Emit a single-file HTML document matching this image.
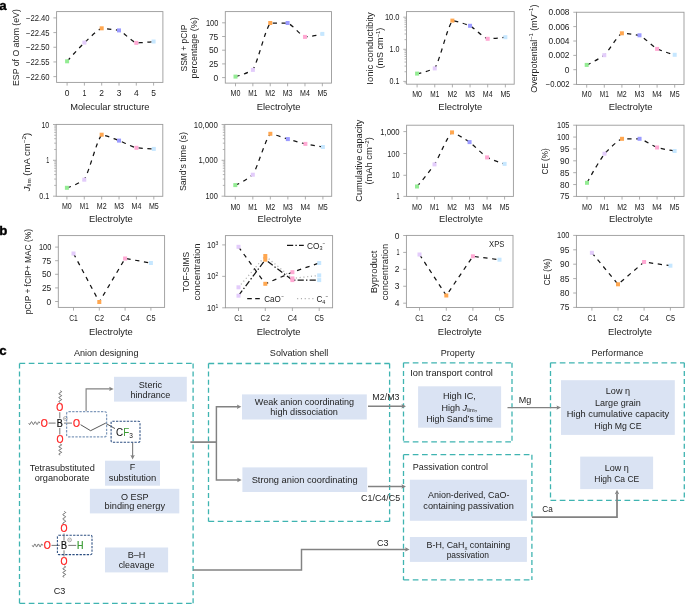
<!DOCTYPE html>
<html lang="en"><head><meta charset="utf-8"><title>Figure</title>
<style>
html,body{margin:0;padding:0;background:#fff}
svg{display:block}
text{font-family:"Liberation Sans",Arial,Helvetica,sans-serif}
</style></head><body>
<svg width="685" height="604" viewBox="0 0 685 604">
<rect width="685" height="604" fill="#fff"/>
<g fill="#222">
<text transform="translate(-0.70 10.40) scale(1.020 1)" font-size="13" fill="#000" font-weight="bold" stroke="#000" stroke-width="0.35">a</text>
<text transform="translate(-0.70 235.30) scale(1.020 1)" font-size="13" fill="#000" font-weight="bold" stroke="#000" stroke-width="0.35">b</text>
<text transform="translate(-0.70 355.30) scale(1.020 1)" font-size="13" fill="#000" font-weight="bold" stroke="#000" stroke-width="0.35">c</text>
<rect x="56.60" y="11.60" width="106.30" height="70.80" fill="#fff" stroke="#9a9a9a" stroke-width="0.9"/>
<line x1="53.40" y1="17.90" x2="56.60" y2="17.90" stroke="#9a9a9a" stroke-width="0.8"/>
<text transform="translate(49.60 20.90) scale(0.914 1)" font-size="8.4" text-anchor="end">−22.40</text>
<line x1="53.40" y1="32.58" x2="56.60" y2="32.58" stroke="#9a9a9a" stroke-width="0.8"/>
<text transform="translate(49.60 35.58) scale(0.914 1)" font-size="8.4" text-anchor="end">−22.45</text>
<line x1="53.40" y1="47.26" x2="56.60" y2="47.26" stroke="#9a9a9a" stroke-width="0.8"/>
<text transform="translate(49.60 50.26) scale(0.914 1)" font-size="8.4" text-anchor="end">−22.50</text>
<line x1="53.40" y1="61.94" x2="56.60" y2="61.94" stroke="#9a9a9a" stroke-width="0.8"/>
<text transform="translate(49.60 64.94) scale(0.914 1)" font-size="8.4" text-anchor="end">−22.55</text>
<line x1="53.40" y1="76.62" x2="56.60" y2="76.62" stroke="#9a9a9a" stroke-width="0.8"/>
<text transform="translate(49.60 79.62) scale(0.914 1)" font-size="8.4" text-anchor="end">−22.60</text>
<line x1="67.10" y1="82.40" x2="67.10" y2="85.60" stroke="#9a9a9a" stroke-width="0.8"/>
<text transform="translate(67.10 95.80) scale(1.007 1)" font-size="8.4" text-anchor="middle">0</text>
<line x1="84.40" y1="82.40" x2="84.40" y2="85.60" stroke="#9a9a9a" stroke-width="0.8"/>
<text transform="translate(84.40 95.80) scale(0.836 1)" font-size="8.4" text-anchor="middle">1</text>
<line x1="101.70" y1="82.40" x2="101.70" y2="85.60" stroke="#9a9a9a" stroke-width="0.8"/>
<text transform="translate(101.70 95.80) scale(1.007 1)" font-size="8.4" text-anchor="middle">2</text>
<line x1="119.00" y1="82.40" x2="119.00" y2="85.60" stroke="#9a9a9a" stroke-width="0.8"/>
<text transform="translate(119.00 95.80) scale(1.007 1)" font-size="8.4" text-anchor="middle">3</text>
<line x1="136.30" y1="82.40" x2="136.30" y2="85.60" stroke="#9a9a9a" stroke-width="0.8"/>
<text transform="translate(136.30 95.80) scale(1.007 1)" font-size="8.4" text-anchor="middle">4</text>
<line x1="153.60" y1="82.40" x2="153.60" y2="85.60" stroke="#9a9a9a" stroke-width="0.8"/>
<text transform="translate(153.60 95.80) scale(1.007 1)" font-size="8.4" text-anchor="middle">5</text>
<path d="M67.10 61.30 C72.87 54.74 78.63 48.46 84.40 42.60 C90.17 37.55 95.93 30.92 101.70 28.30 C107.47 28.68 113.23 29.48 119.00 30.40 C124.77 33.23 130.53 40.61 136.30 42.90 C142.07 42.64 147.83 42.39 153.60 41.50" fill="none" stroke="#141414" stroke-width="1.25" stroke-dasharray="4.3 4.6"/>
<rect x="65.10" y="59.30" width="4" height="4" fill="#93ec93"/>
<rect x="82.40" y="40.60" width="4" height="4" fill="#e3ccfb"/>
<rect x="99.70" y="26.30" width="4" height="4" fill="#ffa750"/>
<rect x="117.00" y="28.40" width="4" height="4" fill="#9b9bff"/>
<rect x="134.30" y="40.90" width="4" height="4" fill="#ffa9d3"/>
<rect x="151.60" y="39.50" width="4" height="4" fill="#c6e7ff"/>
<text transform="translate(19.10 47.60) rotate(-90) scale(0.990 1)" font-size="8.8" text-anchor="middle">ESP of O atom (eV)</text>
<text transform="translate(109.80 110.10) scale(1.061 1)" font-size="8.8" text-anchor="middle">Molecular structure</text>
<rect x="225.30" y="11.60" width="106.20" height="71.50" fill="#fff" stroke="#9a9a9a" stroke-width="0.9"/>
<line x1="222.10" y1="22.80" x2="225.30" y2="22.80" stroke="#9a9a9a" stroke-width="0.8"/>
<text transform="translate(218.30 25.80) scale(0.887 1)" font-size="8.4" text-anchor="end">100</text>
<line x1="222.10" y1="36.50" x2="225.30" y2="36.50" stroke="#9a9a9a" stroke-width="0.8"/>
<text transform="translate(218.30 39.50) scale(1.007 1)" font-size="8.4" text-anchor="end">75</text>
<line x1="222.10" y1="50.20" x2="225.30" y2="50.20" stroke="#9a9a9a" stroke-width="0.8"/>
<text transform="translate(218.30 53.20) scale(1.007 1)" font-size="8.4" text-anchor="end">50</text>
<line x1="222.10" y1="63.90" x2="225.30" y2="63.90" stroke="#9a9a9a" stroke-width="0.8"/>
<text transform="translate(218.30 66.90) scale(1.007 1)" font-size="8.4" text-anchor="end">25</text>
<line x1="222.10" y1="77.60" x2="225.30" y2="77.60" stroke="#9a9a9a" stroke-width="0.8"/>
<text transform="translate(218.30 80.60) scale(1.007 1)" font-size="8.4" text-anchor="end">0</text>
<line x1="235.50" y1="83.10" x2="235.50" y2="86.30" stroke="#9a9a9a" stroke-width="0.8"/>
<text transform="translate(235.50 96.10) scale(0.842 1)" font-size="8.4" text-anchor="middle">M0</text>
<line x1="252.87" y1="83.10" x2="252.87" y2="86.30" stroke="#9a9a9a" stroke-width="0.8"/>
<text transform="translate(252.87 96.10) scale(0.774 1)" font-size="8.4" text-anchor="middle">M1</text>
<line x1="270.24" y1="83.10" x2="270.24" y2="86.30" stroke="#9a9a9a" stroke-width="0.8"/>
<text transform="translate(270.24 96.10) scale(0.842 1)" font-size="8.4" text-anchor="middle">M2</text>
<line x1="287.61" y1="83.10" x2="287.61" y2="86.30" stroke="#9a9a9a" stroke-width="0.8"/>
<text transform="translate(287.61 96.10) scale(0.842 1)" font-size="8.4" text-anchor="middle">M3</text>
<line x1="304.98" y1="83.10" x2="304.98" y2="86.30" stroke="#9a9a9a" stroke-width="0.8"/>
<text transform="translate(304.98 96.10) scale(0.842 1)" font-size="8.4" text-anchor="middle">M4</text>
<line x1="322.35" y1="83.10" x2="322.35" y2="86.30" stroke="#9a9a9a" stroke-width="0.8"/>
<text transform="translate(322.35 96.10) scale(0.842 1)" font-size="8.4" text-anchor="middle">M5</text>
<path d="M235.50 76.60 C241.29 75.37 247.08 72.89 252.87 69.90 C258.66 59.54 264.45 31.60 270.24 23.00 C276.03 23.00 281.82 23.00 287.61 23.00 C293.40 25.55 299.19 34.35 304.98 36.90 C310.77 36.35 316.56 35.80 322.35 33.90" fill="none" stroke="#141414" stroke-width="1.25" stroke-dasharray="4.3 4.6"/>
<rect x="233.50" y="74.60" width="4" height="4" fill="#93ec93"/>
<rect x="250.87" y="67.90" width="4" height="4" fill="#e3ccfb"/>
<rect x="268.24" y="21.00" width="4" height="4" fill="#ffa750"/>
<rect x="285.61" y="21.00" width="4" height="4" fill="#9b9bff"/>
<rect x="302.98" y="34.90" width="4" height="4" fill="#ffa9d3"/>
<rect x="320.35" y="31.90" width="4" height="4" fill="#c6e7ff"/>
<text transform="translate(186.50 48.00) rotate(-90) scale(0.966 1)" font-size="8.8" text-anchor="middle">SSM + pCIP</text>
<text transform="translate(197.20 47.90) rotate(-90) scale(1.017 1)" font-size="8.8" text-anchor="middle">percentage (%)</text>
<text transform="translate(278.60 110.10) scale(1.069 1)" font-size="8.8" text-anchor="middle">Electrolyte</text>
<rect x="406.50" y="11.60" width="107.70" height="72.60" fill="#fff" stroke="#9a9a9a" stroke-width="0.9"/>
<line x1="404.50" y1="82.87" x2="406.50" y2="82.87" stroke="#a2a2a2" stroke-width="0.8"/>
<line x1="404.50" y1="71.74" x2="406.50" y2="71.74" stroke="#a2a2a2" stroke-width="0.8"/>
<line x1="404.50" y1="66.08" x2="406.50" y2="66.08" stroke="#a2a2a2" stroke-width="0.8"/>
<line x1="404.50" y1="62.07" x2="406.50" y2="62.07" stroke="#a2a2a2" stroke-width="0.8"/>
<line x1="404.50" y1="58.96" x2="406.50" y2="58.96" stroke="#a2a2a2" stroke-width="0.8"/>
<line x1="404.50" y1="56.42" x2="406.50" y2="56.42" stroke="#a2a2a2" stroke-width="0.8"/>
<line x1="404.50" y1="54.27" x2="406.50" y2="54.27" stroke="#a2a2a2" stroke-width="0.8"/>
<line x1="404.50" y1="52.41" x2="406.50" y2="52.41" stroke="#a2a2a2" stroke-width="0.8"/>
<line x1="404.50" y1="50.77" x2="406.50" y2="50.77" stroke="#a2a2a2" stroke-width="0.8"/>
<line x1="404.50" y1="39.64" x2="406.50" y2="39.64" stroke="#a2a2a2" stroke-width="0.8"/>
<line x1="404.50" y1="33.98" x2="406.50" y2="33.98" stroke="#a2a2a2" stroke-width="0.8"/>
<line x1="404.50" y1="29.97" x2="406.50" y2="29.97" stroke="#a2a2a2" stroke-width="0.8"/>
<line x1="404.50" y1="26.86" x2="406.50" y2="26.86" stroke="#a2a2a2" stroke-width="0.8"/>
<line x1="404.50" y1="24.32" x2="406.50" y2="24.32" stroke="#a2a2a2" stroke-width="0.8"/>
<line x1="404.50" y1="22.17" x2="406.50" y2="22.17" stroke="#a2a2a2" stroke-width="0.8"/>
<line x1="404.50" y1="20.31" x2="406.50" y2="20.31" stroke="#a2a2a2" stroke-width="0.8"/>
<line x1="404.50" y1="18.67" x2="406.50" y2="18.67" stroke="#a2a2a2" stroke-width="0.8"/>
<line x1="403.30" y1="17.20" x2="406.50" y2="17.20" stroke="#9a9a9a" stroke-width="0.8"/>
<text transform="translate(399.50 20.20) scale(0.894 1)" font-size="8.4" text-anchor="end">10.0</text>
<line x1="403.30" y1="49.30" x2="406.50" y2="49.30" stroke="#9a9a9a" stroke-width="0.8"/>
<text transform="translate(399.50 52.30) scale(0.849 1)" font-size="8.4" text-anchor="end">1.0</text>
<line x1="403.30" y1="81.40" x2="406.50" y2="81.40" stroke="#9a9a9a" stroke-width="0.8"/>
<text transform="translate(399.50 84.40) scale(0.849 1)" font-size="8.4" text-anchor="end">0.1</text>
<line x1="417.10" y1="84.20" x2="417.10" y2="87.40" stroke="#9a9a9a" stroke-width="0.8"/>
<text transform="translate(417.10 97.10) scale(0.842 1)" font-size="8.4" text-anchor="middle">M0</text>
<line x1="434.75" y1="84.20" x2="434.75" y2="87.40" stroke="#9a9a9a" stroke-width="0.8"/>
<text transform="translate(434.75 97.10) scale(0.774 1)" font-size="8.4" text-anchor="middle">M1</text>
<line x1="452.40" y1="84.20" x2="452.40" y2="87.40" stroke="#9a9a9a" stroke-width="0.8"/>
<text transform="translate(452.40 97.10) scale(0.842 1)" font-size="8.4" text-anchor="middle">M2</text>
<line x1="470.05" y1="84.20" x2="470.05" y2="87.40" stroke="#9a9a9a" stroke-width="0.8"/>
<text transform="translate(470.05 97.10) scale(0.842 1)" font-size="8.4" text-anchor="middle">M3</text>
<line x1="487.70" y1="84.20" x2="487.70" y2="87.40" stroke="#9a9a9a" stroke-width="0.8"/>
<text transform="translate(487.70 97.10) scale(0.842 1)" font-size="8.4" text-anchor="middle">M4</text>
<line x1="505.35" y1="84.20" x2="505.35" y2="87.40" stroke="#9a9a9a" stroke-width="0.8"/>
<text transform="translate(505.35 97.10) scale(0.842 1)" font-size="8.4" text-anchor="middle">M5</text>
<path d="M417.10 73.60 C422.98 72.65 428.87 70.76 434.75 68.40 C440.63 58.23 446.52 29.36 452.40 20.60 C458.28 21.55 464.17 23.73 470.05 25.80 C475.93 29.30 481.82 36.42 487.70 38.80 C493.58 38.51 499.47 38.21 505.35 37.20" fill="none" stroke="#141414" stroke-width="1.25" stroke-dasharray="4.3 4.6"/>
<rect x="415.10" y="71.60" width="4" height="4" fill="#93ec93"/>
<rect x="432.75" y="66.40" width="4" height="4" fill="#e3ccfb"/>
<rect x="450.40" y="18.60" width="4" height="4" fill="#ffa750"/>
<rect x="468.05" y="23.80" width="4" height="4" fill="#9b9bff"/>
<rect x="485.70" y="36.80" width="4" height="4" fill="#ffa9d3"/>
<rect x="503.35" y="35.20" width="4" height="4" fill="#c6e7ff"/>
<text transform="translate(372.70 48.50) rotate(-90) scale(1.073 1)" font-size="8.8" text-anchor="middle">Ionic conductibity</text>
<text transform="translate(383.30 48.10) rotate(-90) scale(1.024 1)" font-size="8.8" text-anchor="middle">(mS cm<tspan font-size="5.81" dy="-3.17">−1</tspan><tspan dy="3.17">)</tspan></text>
<text transform="translate(460.30 110.10) scale(1.069 1)" font-size="8.8" text-anchor="middle">Electrolyte</text>
<rect x="576.50" y="12.25" width="107.50" height="72.20" fill="#fff" stroke="#9a9a9a" stroke-width="0.9"/>
<line x1="573.30" y1="12.25" x2="576.50" y2="12.25" stroke="#9a9a9a" stroke-width="0.8"/>
<text transform="translate(569.50 15.25) scale(0.999 1)" font-size="8.4" text-anchor="end">0.008</text>
<line x1="573.30" y1="26.60" x2="576.50" y2="26.60" stroke="#9a9a9a" stroke-width="0.8"/>
<text transform="translate(569.50 29.60) scale(0.999 1)" font-size="8.4" text-anchor="end">0.006</text>
<line x1="573.30" y1="41.00" x2="576.50" y2="41.00" stroke="#9a9a9a" stroke-width="0.8"/>
<text transform="translate(569.50 44.00) scale(0.999 1)" font-size="8.4" text-anchor="end">0.004</text>
<line x1="573.30" y1="55.40" x2="576.50" y2="55.40" stroke="#9a9a9a" stroke-width="0.8"/>
<text transform="translate(569.50 58.40) scale(0.999 1)" font-size="8.4" text-anchor="end">0.002</text>
<line x1="573.30" y1="69.70" x2="576.50" y2="69.70" stroke="#9a9a9a" stroke-width="0.8"/>
<text transform="translate(569.50 72.70) scale(1.007 1)" font-size="8.4" text-anchor="end">0</text>
<line x1="573.30" y1="84.35" x2="576.50" y2="84.35" stroke="#9a9a9a" stroke-width="0.8"/>
<text transform="translate(569.50 87.35) scale(0.914 1)" font-size="8.4" text-anchor="end">−0.002</text>
<line x1="586.70" y1="84.45" x2="586.70" y2="87.65" stroke="#9a9a9a" stroke-width="0.8"/>
<text transform="translate(586.70 97.10) scale(0.842 1)" font-size="8.4" text-anchor="middle">M0</text>
<line x1="604.30" y1="84.45" x2="604.30" y2="87.65" stroke="#9a9a9a" stroke-width="0.8"/>
<text transform="translate(604.30 97.10) scale(0.774 1)" font-size="8.4" text-anchor="middle">M1</text>
<line x1="621.90" y1="84.45" x2="621.90" y2="87.65" stroke="#9a9a9a" stroke-width="0.8"/>
<text transform="translate(621.90 97.10) scale(0.842 1)" font-size="8.4" text-anchor="middle">M2</text>
<line x1="639.50" y1="84.45" x2="639.50" y2="87.65" stroke="#9a9a9a" stroke-width="0.8"/>
<text transform="translate(639.50 97.10) scale(0.842 1)" font-size="8.4" text-anchor="middle">M3</text>
<line x1="657.10" y1="84.45" x2="657.10" y2="87.65" stroke="#9a9a9a" stroke-width="0.8"/>
<text transform="translate(657.10 97.10) scale(0.842 1)" font-size="8.4" text-anchor="middle">M4</text>
<line x1="674.70" y1="84.45" x2="674.70" y2="87.65" stroke="#9a9a9a" stroke-width="0.8"/>
<text transform="translate(674.70 97.10) scale(0.842 1)" font-size="8.4" text-anchor="middle">M5</text>
<path d="M586.70 64.90 C592.57 62.58 598.43 59.00 604.30 55.20 C610.17 49.17 616.03 37.31 621.90 33.30 C627.77 33.67 633.63 34.41 639.50 35.30 C645.37 38.32 651.23 45.17 657.10 48.90 C662.97 51.22 668.83 53.41 674.70 54.80" fill="none" stroke="#141414" stroke-width="1.25" stroke-dasharray="4.3 4.6"/>
<rect x="584.70" y="62.90" width="4" height="4" fill="#93ec93"/>
<rect x="602.30" y="53.20" width="4" height="4" fill="#e3ccfb"/>
<rect x="619.90" y="31.30" width="4" height="4" fill="#ffa750"/>
<rect x="637.50" y="33.30" width="4" height="4" fill="#9b9bff"/>
<rect x="655.10" y="46.90" width="4" height="4" fill="#ffa9d3"/>
<rect x="672.70" y="52.80" width="4" height="4" fill="#c6e7ff"/>
<text transform="translate(536.50 48.70) rotate(-90) scale(1.013 1)" font-size="8.8" text-anchor="middle">Overpotential<tspan font-size="5.81" dy="-3.17">−1</tspan><tspan dy="3.17"> (mV</tspan><tspan font-size="5.81" dy="-3.17">−1</tspan><tspan dy="3.17">)</tspan></text>
<text transform="translate(630.60 110.10) scale(1.069 1)" font-size="8.8" text-anchor="middle">Electrolyte</text>
<rect x="56.20" y="124.40" width="106.60" height="71.90" fill="#fff" stroke="#9a9a9a" stroke-width="0.9"/>
<line x1="54.20" y1="185.39" x2="56.20" y2="185.39" stroke="#a2a2a2" stroke-width="0.8"/>
<line x1="54.20" y1="179.07" x2="56.20" y2="179.07" stroke="#a2a2a2" stroke-width="0.8"/>
<line x1="54.20" y1="174.59" x2="56.20" y2="174.59" stroke="#a2a2a2" stroke-width="0.8"/>
<line x1="54.20" y1="171.11" x2="56.20" y2="171.11" stroke="#a2a2a2" stroke-width="0.8"/>
<line x1="54.20" y1="168.26" x2="56.20" y2="168.26" stroke="#a2a2a2" stroke-width="0.8"/>
<line x1="54.20" y1="165.86" x2="56.20" y2="165.86" stroke="#a2a2a2" stroke-width="0.8"/>
<line x1="54.20" y1="163.78" x2="56.20" y2="163.78" stroke="#a2a2a2" stroke-width="0.8"/>
<line x1="54.20" y1="161.94" x2="56.20" y2="161.94" stroke="#a2a2a2" stroke-width="0.8"/>
<line x1="54.20" y1="149.49" x2="56.20" y2="149.49" stroke="#a2a2a2" stroke-width="0.8"/>
<line x1="54.20" y1="143.17" x2="56.20" y2="143.17" stroke="#a2a2a2" stroke-width="0.8"/>
<line x1="54.20" y1="138.69" x2="56.20" y2="138.69" stroke="#a2a2a2" stroke-width="0.8"/>
<line x1="54.20" y1="135.21" x2="56.20" y2="135.21" stroke="#a2a2a2" stroke-width="0.8"/>
<line x1="54.20" y1="132.36" x2="56.20" y2="132.36" stroke="#a2a2a2" stroke-width="0.8"/>
<line x1="54.20" y1="129.96" x2="56.20" y2="129.96" stroke="#a2a2a2" stroke-width="0.8"/>
<line x1="54.20" y1="127.88" x2="56.20" y2="127.88" stroke="#a2a2a2" stroke-width="0.8"/>
<line x1="54.20" y1="126.04" x2="56.20" y2="126.04" stroke="#a2a2a2" stroke-width="0.8"/>
<line x1="53.00" y1="124.50" x2="56.20" y2="124.50" stroke="#9a9a9a" stroke-width="0.8"/>
<text transform="translate(49.20 127.50) scale(0.827 1)" font-size="8.4" text-anchor="end">10</text>
<line x1="53.00" y1="160.30" x2="56.20" y2="160.30" stroke="#9a9a9a" stroke-width="0.8"/>
<text transform="translate(49.20 163.30) scale(0.647 1)" font-size="8.4" text-anchor="end">1</text>
<line x1="53.00" y1="196.20" x2="56.20" y2="196.20" stroke="#9a9a9a" stroke-width="0.8"/>
<text transform="translate(49.20 199.20) scale(0.849 1)" font-size="8.4" text-anchor="end">0.1</text>
<line x1="66.90" y1="196.30" x2="66.90" y2="199.50" stroke="#9a9a9a" stroke-width="0.8"/>
<text transform="translate(66.90 209.00) scale(0.842 1)" font-size="8.4" text-anchor="middle">M0</text>
<line x1="84.28" y1="196.30" x2="84.28" y2="199.50" stroke="#9a9a9a" stroke-width="0.8"/>
<text transform="translate(84.28 209.00) scale(0.774 1)" font-size="8.4" text-anchor="middle">M1</text>
<line x1="101.66" y1="196.30" x2="101.66" y2="199.50" stroke="#9a9a9a" stroke-width="0.8"/>
<text transform="translate(101.66 209.00) scale(0.842 1)" font-size="8.4" text-anchor="middle">M2</text>
<line x1="119.04" y1="196.30" x2="119.04" y2="199.50" stroke="#9a9a9a" stroke-width="0.8"/>
<text transform="translate(119.04 209.00) scale(0.842 1)" font-size="8.4" text-anchor="middle">M3</text>
<line x1="136.42" y1="196.30" x2="136.42" y2="199.50" stroke="#9a9a9a" stroke-width="0.8"/>
<text transform="translate(136.42 209.00) scale(0.842 1)" font-size="8.4" text-anchor="middle">M4</text>
<line x1="153.80" y1="196.30" x2="153.80" y2="199.50" stroke="#9a9a9a" stroke-width="0.8"/>
<text transform="translate(153.80 209.00) scale(0.842 1)" font-size="8.4" text-anchor="middle">M5</text>
<path d="M66.90 187.80 C72.69 186.31 78.49 183.24 84.28 179.70 C90.07 169.39 95.87 142.95 101.66 134.70 C107.45 135.78 113.25 138.55 119.04 140.60 C124.83 142.89 130.63 146.19 136.42 147.80 C142.21 148.29 148.01 148.70 153.80 148.90" fill="none" stroke="#141414" stroke-width="1.25" stroke-dasharray="4.3 4.6"/>
<rect x="64.90" y="185.80" width="4" height="4" fill="#93ec93"/>
<rect x="82.28" y="177.70" width="4" height="4" fill="#e3ccfb"/>
<rect x="99.66" y="132.70" width="4" height="4" fill="#ffa750"/>
<rect x="117.04" y="138.60" width="4" height="4" fill="#9b9bff"/>
<rect x="134.42" y="145.80" width="4" height="4" fill="#ffa9d3"/>
<rect x="151.80" y="146.90" width="4" height="4" fill="#c6e7ff"/>
<text transform="translate(29.60 162.00) rotate(-90) scale(1.089 1)" font-size="8.8" text-anchor="middle"><tspan font-style="italic">J</tspan><tspan font-size="5.81" dy="1.76">lim</tspan><tspan dy="-1.76"> (mA cm</tspan><tspan font-size="5.81" dy="-3.17">−2</tspan><tspan dy="3.17">)</tspan></text>
<text transform="translate(110.90 222.10) scale(1.069 1)" font-size="8.8" text-anchor="middle">Electrolyte</text>
<rect x="224.80" y="124.40" width="106.90" height="71.90" fill="#fff" stroke="#9a9a9a" stroke-width="0.9"/>
<line x1="222.80" y1="185.39" x2="224.80" y2="185.39" stroke="#a2a2a2" stroke-width="0.8"/>
<line x1="222.80" y1="179.07" x2="224.80" y2="179.07" stroke="#a2a2a2" stroke-width="0.8"/>
<line x1="222.80" y1="174.59" x2="224.80" y2="174.59" stroke="#a2a2a2" stroke-width="0.8"/>
<line x1="222.80" y1="171.11" x2="224.80" y2="171.11" stroke="#a2a2a2" stroke-width="0.8"/>
<line x1="222.80" y1="168.26" x2="224.80" y2="168.26" stroke="#a2a2a2" stroke-width="0.8"/>
<line x1="222.80" y1="165.86" x2="224.80" y2="165.86" stroke="#a2a2a2" stroke-width="0.8"/>
<line x1="222.80" y1="163.78" x2="224.80" y2="163.78" stroke="#a2a2a2" stroke-width="0.8"/>
<line x1="222.80" y1="161.94" x2="224.80" y2="161.94" stroke="#a2a2a2" stroke-width="0.8"/>
<line x1="222.80" y1="149.49" x2="224.80" y2="149.49" stroke="#a2a2a2" stroke-width="0.8"/>
<line x1="222.80" y1="143.17" x2="224.80" y2="143.17" stroke="#a2a2a2" stroke-width="0.8"/>
<line x1="222.80" y1="138.69" x2="224.80" y2="138.69" stroke="#a2a2a2" stroke-width="0.8"/>
<line x1="222.80" y1="135.21" x2="224.80" y2="135.21" stroke="#a2a2a2" stroke-width="0.8"/>
<line x1="222.80" y1="132.36" x2="224.80" y2="132.36" stroke="#a2a2a2" stroke-width="0.8"/>
<line x1="222.80" y1="129.96" x2="224.80" y2="129.96" stroke="#a2a2a2" stroke-width="0.8"/>
<line x1="222.80" y1="127.88" x2="224.80" y2="127.88" stroke="#a2a2a2" stroke-width="0.8"/>
<line x1="222.80" y1="126.04" x2="224.80" y2="126.04" stroke="#a2a2a2" stroke-width="0.8"/>
<line x1="221.60" y1="124.50" x2="224.80" y2="124.50" stroke="#9a9a9a" stroke-width="0.8"/>
<text transform="translate(217.80 127.50) scale(0.935 1)" font-size="8.4" text-anchor="end">10,000</text>
<line x1="221.60" y1="160.30" x2="224.80" y2="160.30" stroke="#9a9a9a" stroke-width="0.8"/>
<text transform="translate(217.80 163.30) scale(0.919 1)" font-size="8.4" text-anchor="end">1,000</text>
<line x1="221.60" y1="196.20" x2="224.80" y2="196.20" stroke="#9a9a9a" stroke-width="0.8"/>
<text transform="translate(217.80 199.20) scale(0.887 1)" font-size="8.4" text-anchor="end">100</text>
<line x1="235.30" y1="196.30" x2="235.30" y2="199.50" stroke="#9a9a9a" stroke-width="0.8"/>
<text transform="translate(235.30 209.80) scale(0.842 1)" font-size="8.4" text-anchor="middle">M0</text>
<line x1="252.82" y1="196.30" x2="252.82" y2="199.50" stroke="#9a9a9a" stroke-width="0.8"/>
<text transform="translate(252.82 209.80) scale(0.774 1)" font-size="8.4" text-anchor="middle">M1</text>
<line x1="270.34" y1="196.30" x2="270.34" y2="199.50" stroke="#9a9a9a" stroke-width="0.8"/>
<text transform="translate(270.34 209.80) scale(0.842 1)" font-size="8.4" text-anchor="middle">M2</text>
<line x1="287.86" y1="196.30" x2="287.86" y2="199.50" stroke="#9a9a9a" stroke-width="0.8"/>
<text transform="translate(287.86 209.80) scale(0.842 1)" font-size="8.4" text-anchor="middle">M3</text>
<line x1="305.38" y1="196.30" x2="305.38" y2="199.50" stroke="#9a9a9a" stroke-width="0.8"/>
<text transform="translate(305.38 209.80) scale(0.842 1)" font-size="8.4" text-anchor="middle">M4</text>
<line x1="322.90" y1="196.30" x2="322.90" y2="199.50" stroke="#9a9a9a" stroke-width="0.8"/>
<text transform="translate(322.90 209.80) scale(0.842 1)" font-size="8.4" text-anchor="middle">M5</text>
<path d="M235.30 185.10 C241.14 183.19 246.98 179.09 252.82 174.70 C258.66 164.71 264.50 141.30 270.34 133.80 C276.18 134.77 282.02 137.37 287.86 139.10 C293.70 140.74 299.54 142.45 305.38 143.90 C311.22 145.03 317.06 146.09 322.90 147.00" fill="none" stroke="#141414" stroke-width="1.25" stroke-dasharray="4.3 4.6"/>
<rect x="233.30" y="183.10" width="4" height="4" fill="#93ec93"/>
<rect x="250.82" y="172.70" width="4" height="4" fill="#e3ccfb"/>
<rect x="268.34" y="131.80" width="4" height="4" fill="#ffa750"/>
<rect x="285.86" y="137.10" width="4" height="4" fill="#9b9bff"/>
<rect x="303.38" y="141.90" width="4" height="4" fill="#ffa9d3"/>
<rect x="320.90" y="145.00" width="4" height="4" fill="#c6e7ff"/>
<text transform="translate(185.80 161.60) rotate(-90) scale(1.010 1)" font-size="8.8" text-anchor="middle">Sand’s time (s)</text>
<text transform="translate(279.50 222.10) scale(1.069 1)" font-size="8.8" text-anchor="middle">Electrolyte</text>
<rect x="406.60" y="125.20" width="106.80" height="71.20" fill="#fff" stroke="#9a9a9a" stroke-width="0.9"/>
<line x1="403.40" y1="131.60" x2="406.60" y2="131.60" stroke="#9a9a9a" stroke-width="0.8"/>
<text transform="translate(399.60 134.60) scale(0.919 1)" font-size="8.4" text-anchor="end">1,000</text>
<line x1="403.40" y1="153.50" x2="406.60" y2="153.50" stroke="#9a9a9a" stroke-width="0.8"/>
<text transform="translate(399.60 156.50) scale(0.887 1)" font-size="8.4" text-anchor="end">100</text>
<line x1="403.40" y1="175.30" x2="406.60" y2="175.30" stroke="#9a9a9a" stroke-width="0.8"/>
<text transform="translate(399.60 178.30) scale(0.827 1)" font-size="8.4" text-anchor="end">10</text>
<line x1="403.40" y1="196.40" x2="406.60" y2="196.40" stroke="#9a9a9a" stroke-width="0.8"/>
<text transform="translate(399.60 199.40) scale(0.647 1)" font-size="8.4" text-anchor="end">1</text>
<line x1="417.00" y1="196.40" x2="417.00" y2="199.60" stroke="#9a9a9a" stroke-width="0.8"/>
<text transform="translate(417.00 210.10) scale(0.842 1)" font-size="8.4" text-anchor="middle">M0</text>
<line x1="434.52" y1="196.40" x2="434.52" y2="199.60" stroke="#9a9a9a" stroke-width="0.8"/>
<text transform="translate(434.52 210.10) scale(0.774 1)" font-size="8.4" text-anchor="middle">M1</text>
<line x1="452.04" y1="196.40" x2="452.04" y2="199.60" stroke="#9a9a9a" stroke-width="0.8"/>
<text transform="translate(452.04 210.10) scale(0.842 1)" font-size="8.4" text-anchor="middle">M2</text>
<line x1="469.56" y1="196.40" x2="469.56" y2="199.60" stroke="#9a9a9a" stroke-width="0.8"/>
<text transform="translate(469.56 210.10) scale(0.842 1)" font-size="8.4" text-anchor="middle">M3</text>
<line x1="487.08" y1="196.40" x2="487.08" y2="199.60" stroke="#9a9a9a" stroke-width="0.8"/>
<text transform="translate(487.08 210.10) scale(0.842 1)" font-size="8.4" text-anchor="middle">M4</text>
<line x1="504.60" y1="196.40" x2="504.60" y2="199.60" stroke="#9a9a9a" stroke-width="0.8"/>
<text transform="translate(504.60 210.10) scale(0.842 1)" font-size="8.4" text-anchor="middle">M5</text>
<path d="M417.00 186.50 C422.84 179.88 428.68 172.37 434.52 164.40 C440.36 154.61 446.20 138.27 452.04 132.40 C457.88 134.18 463.72 138.54 469.56 142.10 C475.40 146.69 481.24 153.23 487.08 157.40 C492.92 159.96 498.76 162.39 504.60 163.90" fill="none" stroke="#141414" stroke-width="1.25" stroke-dasharray="4.3 4.6"/>
<rect x="415.00" y="184.50" width="4" height="4" fill="#93ec93"/>
<rect x="432.52" y="162.40" width="4" height="4" fill="#e3ccfb"/>
<rect x="450.04" y="130.40" width="4" height="4" fill="#ffa750"/>
<rect x="467.56" y="140.10" width="4" height="4" fill="#9b9bff"/>
<rect x="485.08" y="155.40" width="4" height="4" fill="#ffa9d3"/>
<rect x="502.60" y="161.90" width="4" height="4" fill="#c6e7ff"/>
<text transform="translate(362.40 160.60) rotate(-90) scale(1.044 1)" font-size="8.8" text-anchor="middle">Cumulative capacity</text>
<text transform="translate(372.20 160.90) rotate(-90) scale(1.061 1)" font-size="8.8" text-anchor="middle">(mAh cm<tspan font-size="5.81" dy="-3.17">−2</tspan><tspan dy="3.17">)</tspan></text>
<text transform="translate(461.00 222.10) scale(1.069 1)" font-size="8.8" text-anchor="middle">Electrolyte</text>
<rect x="576.40" y="125.20" width="107.60" height="71.20" fill="#fff" stroke="#9a9a9a" stroke-width="0.9"/>
<line x1="573.20" y1="125.20" x2="576.40" y2="125.20" stroke="#9a9a9a" stroke-width="0.8"/>
<text transform="translate(569.40 128.20) scale(0.887 1)" font-size="8.4" text-anchor="end">105</text>
<line x1="573.20" y1="137.07" x2="576.40" y2="137.07" stroke="#9a9a9a" stroke-width="0.8"/>
<text transform="translate(569.40 140.07) scale(0.887 1)" font-size="8.4" text-anchor="end">100</text>
<line x1="573.20" y1="148.94" x2="576.40" y2="148.94" stroke="#9a9a9a" stroke-width="0.8"/>
<text transform="translate(569.40 151.94) scale(1.007 1)" font-size="8.4" text-anchor="end">95</text>
<line x1="573.20" y1="160.81" x2="576.40" y2="160.81" stroke="#9a9a9a" stroke-width="0.8"/>
<text transform="translate(569.40 163.81) scale(1.007 1)" font-size="8.4" text-anchor="end">90</text>
<line x1="573.20" y1="172.68" x2="576.40" y2="172.68" stroke="#9a9a9a" stroke-width="0.8"/>
<text transform="translate(569.40 175.68) scale(1.007 1)" font-size="8.4" text-anchor="end">85</text>
<line x1="573.20" y1="184.55" x2="576.40" y2="184.55" stroke="#9a9a9a" stroke-width="0.8"/>
<text transform="translate(569.40 187.55) scale(1.007 1)" font-size="8.4" text-anchor="end">80</text>
<line x1="573.20" y1="196.42" x2="576.40" y2="196.42" stroke="#9a9a9a" stroke-width="0.8"/>
<text transform="translate(569.40 199.42) scale(1.007 1)" font-size="8.4" text-anchor="end">75</text>
<line x1="587.00" y1="196.40" x2="587.00" y2="199.60" stroke="#9a9a9a" stroke-width="0.8"/>
<text transform="translate(587.00 210.10) scale(0.842 1)" font-size="8.4" text-anchor="middle">M0</text>
<line x1="604.52" y1="196.40" x2="604.52" y2="199.60" stroke="#9a9a9a" stroke-width="0.8"/>
<text transform="translate(604.52 210.10) scale(0.774 1)" font-size="8.4" text-anchor="middle">M1</text>
<line x1="622.04" y1="196.40" x2="622.04" y2="199.60" stroke="#9a9a9a" stroke-width="0.8"/>
<text transform="translate(622.04 210.10) scale(0.842 1)" font-size="8.4" text-anchor="middle">M2</text>
<line x1="639.56" y1="196.40" x2="639.56" y2="199.60" stroke="#9a9a9a" stroke-width="0.8"/>
<text transform="translate(639.56 210.10) scale(0.842 1)" font-size="8.4" text-anchor="middle">M3</text>
<line x1="657.08" y1="196.40" x2="657.08" y2="199.60" stroke="#9a9a9a" stroke-width="0.8"/>
<text transform="translate(657.08 210.10) scale(0.842 1)" font-size="8.4" text-anchor="middle">M4</text>
<line x1="674.60" y1="196.40" x2="674.60" y2="199.60" stroke="#9a9a9a" stroke-width="0.8"/>
<text transform="translate(674.60 210.10) scale(0.842 1)" font-size="8.4" text-anchor="middle">M5</text>
<path d="M587.00 182.80 C592.84 172.03 598.68 161.99 604.52 153.70 C610.36 148.01 616.20 141.53 622.04 138.80 C627.88 138.80 633.72 138.80 639.56 138.80 C645.40 140.40 651.24 145.16 657.08 147.50 C662.92 148.89 668.76 150.22 674.60 151.00" fill="none" stroke="#141414" stroke-width="1.25" stroke-dasharray="4.3 4.6"/>
<rect x="585.00" y="180.80" width="4" height="4" fill="#93ec93"/>
<rect x="602.52" y="151.70" width="4" height="4" fill="#e3ccfb"/>
<rect x="620.04" y="136.80" width="4" height="4" fill="#ffa750"/>
<rect x="637.56" y="136.80" width="4" height="4" fill="#9b9bff"/>
<rect x="655.08" y="145.50" width="4" height="4" fill="#ffa9d3"/>
<rect x="672.60" y="149.00" width="4" height="4" fill="#c6e7ff"/>
<text transform="translate(547.50 161.40) rotate(-90) scale(0.920 1)" font-size="8.8" text-anchor="middle">CE (%)</text>
<text transform="translate(630.90 222.10) scale(1.069 1)" font-size="8.8" text-anchor="middle">Electrolyte</text>
<rect x="58.30" y="235.60" width="106.30" height="71.80" fill="#fff" stroke="#9a9a9a" stroke-width="0.9"/>
<line x1="55.10" y1="247.10" x2="58.30" y2="247.10" stroke="#9a9a9a" stroke-width="0.8"/>
<text transform="translate(51.30 250.10) scale(0.887 1)" font-size="8.4" text-anchor="end">100</text>
<line x1="55.10" y1="260.70" x2="58.30" y2="260.70" stroke="#9a9a9a" stroke-width="0.8"/>
<text transform="translate(51.30 263.70) scale(1.007 1)" font-size="8.4" text-anchor="end">75</text>
<line x1="55.10" y1="274.30" x2="58.30" y2="274.30" stroke="#9a9a9a" stroke-width="0.8"/>
<text transform="translate(51.30 277.30) scale(1.007 1)" font-size="8.4" text-anchor="end">50</text>
<line x1="55.10" y1="287.90" x2="58.30" y2="287.90" stroke="#9a9a9a" stroke-width="0.8"/>
<text transform="translate(51.30 290.90) scale(1.007 1)" font-size="8.4" text-anchor="end">25</text>
<line x1="55.10" y1="301.50" x2="58.30" y2="301.50" stroke="#9a9a9a" stroke-width="0.8"/>
<text transform="translate(51.30 304.50) scale(1.007 1)" font-size="8.4" text-anchor="end">0</text>
<line x1="73.50" y1="307.40" x2="73.50" y2="310.60" stroke="#9a9a9a" stroke-width="0.8"/>
<text transform="translate(73.50 320.60) scale(0.802 1)" font-size="8.4" text-anchor="middle">C1</text>
<line x1="99.30" y1="307.40" x2="99.30" y2="310.60" stroke="#9a9a9a" stroke-width="0.8"/>
<text transform="translate(99.30 320.60) scale(0.876 1)" font-size="8.4" text-anchor="middle">C2</text>
<line x1="125.10" y1="307.40" x2="125.10" y2="310.60" stroke="#9a9a9a" stroke-width="0.8"/>
<text transform="translate(125.10 320.60) scale(0.876 1)" font-size="8.4" text-anchor="middle">C4</text>
<line x1="150.90" y1="307.40" x2="150.90" y2="310.60" stroke="#9a9a9a" stroke-width="0.8"/>
<text transform="translate(150.90 320.60) scale(0.876 1)" font-size="8.4" text-anchor="middle">C5</text>
<path d="M73.50 253.50 L99.30 302.00 L125.10 258.50 L150.90 263.00" fill="none" stroke="#141414" stroke-width="1.25" stroke-dasharray="4.3 4.6"/>
<rect x="71.50" y="251.50" width="4" height="4" fill="#e3ccfb"/>
<rect x="97.30" y="300.00" width="4" height="4" fill="#ffa750"/>
<rect x="123.10" y="256.50" width="4" height="4" fill="#ffa9d3"/>
<rect x="148.90" y="261.00" width="4" height="4" fill="#c6e7ff"/>
<text transform="translate(30.70 271.70) rotate(-90) scale(0.951 1)" font-size="8.8" text-anchor="middle">pCIP + fCIP+ MAC (%)</text>
<text transform="translate(110.90 334.60) scale(1.069 1)" font-size="8.8" text-anchor="middle">Electrolyte</text>
<rect x="225.40" y="235.60" width="107.20" height="72.20" fill="#fff" stroke="#9a9a9a" stroke-width="0.9"/>
<line x1="222.20" y1="244.90" x2="225.40" y2="244.90" stroke="#9a9a9a" stroke-width="0.8"/>
<text transform="translate(218.40 247.90) scale(0.910 1)" font-size="8.4" text-anchor="end">10<tspan font-size="5.54" dy="-3.02">3</tspan></text>
<line x1="222.20" y1="276.35" x2="225.40" y2="276.35" stroke="#9a9a9a" stroke-width="0.8"/>
<text transform="translate(218.40 279.35) scale(0.910 1)" font-size="8.4" text-anchor="end">10<tspan font-size="5.54" dy="-3.02">2</tspan></text>
<line x1="222.20" y1="307.80" x2="225.40" y2="307.80" stroke="#9a9a9a" stroke-width="0.8"/>
<text transform="translate(218.40 310.80) scale(0.910 1)" font-size="8.4" text-anchor="end">10<tspan font-size="5.54" dy="-3.02">1</tspan></text>
<line x1="238.50" y1="307.80" x2="238.50" y2="311.00" stroke="#9a9a9a" stroke-width="0.8"/>
<text transform="translate(238.50 321.10) scale(0.802 1)" font-size="8.4" text-anchor="middle">C1</text>
<line x1="265.30" y1="307.80" x2="265.30" y2="311.00" stroke="#9a9a9a" stroke-width="0.8"/>
<text transform="translate(265.30 321.10) scale(0.876 1)" font-size="8.4" text-anchor="middle">C2</text>
<line x1="292.40" y1="307.80" x2="292.40" y2="311.00" stroke="#9a9a9a" stroke-width="0.8"/>
<text transform="translate(292.40 321.10) scale(0.876 1)" font-size="8.4" text-anchor="middle">C4</text>
<line x1="319.20" y1="307.80" x2="319.20" y2="311.00" stroke="#9a9a9a" stroke-width="0.8"/>
<text transform="translate(319.20 321.10) scale(0.876 1)" font-size="8.4" text-anchor="middle">C5</text>
<path d="M238.50 287.30 L265.30 256.00 L292.40 278.40 L319.20 275.40" fill="none" stroke="#adadad" stroke-width="1.25" stroke-dasharray="1.1 2.7"/>
<path d="M238.50 295.70 L265.30 259.70 L292.40 280.10 L319.20 280.10" fill="none" stroke="#141414" stroke-width="1.25" stroke-dasharray="6.2 2.2 1.4 2.2"/>
<path d="M238.50 246.80 L265.30 283.80 L292.40 272.20 L319.20 263.00" fill="none" stroke="#141414" stroke-width="1.25" stroke-dasharray="4.3 4.6"/>
<rect x="236.50" y="285.30" width="4" height="4" fill="#e3ccfb"/>
<rect x="263.30" y="254.00" width="4" height="4" fill="#ffa750"/>
<rect x="290.40" y="276.40" width="4" height="4" fill="#ffa9d3"/>
<rect x="317.20" y="273.40" width="4" height="4" fill="#c6e7ff"/>
<rect x="236.50" y="293.70" width="4" height="4" fill="#e3ccfb"/>
<rect x="263.30" y="257.70" width="4" height="4" fill="#ffa750"/>
<rect x="290.40" y="278.10" width="4" height="4" fill="#ffa9d3"/>
<rect x="317.20" y="278.10" width="4" height="4" fill="#c6e7ff"/>
<rect x="236.50" y="244.80" width="4" height="4" fill="#e3ccfb"/>
<rect x="263.30" y="281.80" width="4" height="4" fill="#ffa750"/>
<rect x="290.40" y="270.20" width="4" height="4" fill="#ffa9d3"/>
<rect x="317.20" y="261.00" width="4" height="4" fill="#c6e7ff"/>
<text transform="translate(189.00 271.90) rotate(-90) scale(0.960 1)" font-size="8.8" text-anchor="middle">TOF-SIMS</text>
<text transform="translate(200.10 271.90) rotate(-90) scale(1.081 1)" font-size="8.8" text-anchor="middle">concentration</text>
<text transform="translate(278.60 334.60) scale(1.069 1)" font-size="8.8" text-anchor="middle">Electrolyte</text>
<path d="M287.0 245.3H303.8" stroke="#141414" stroke-width="1.2" stroke-dasharray="6.2 2.2 1.4 2.2" fill="none"/>
<text transform="translate(307.00 248.60) scale(0.893 1)" font-size="9.3">CO<tspan font-size="6.14" dy="1.86">3</tspan></text>
<text transform="translate(322.60 245.00) scale(0.800 1)" font-size="5.5">−</text>
<path d="M247.2 298.7H259.9" stroke="#141414" stroke-width="1.2" stroke-dasharray="4.6 3.4" fill="none"/>
<text transform="translate(264.30 302.00) scale(0.868 1)" font-size="9.3">CaO</text>
<text transform="translate(281.20 298.20) scale(0.800 1)" font-size="5.5">−</text>
<path d="M297.1 298.7H313.5" stroke="#adadad" stroke-width="1.2" stroke-dasharray="1.1 2.7" fill="none"/>
<text transform="translate(316.40 302.00) scale(0.888 1)" font-size="9.3">C<tspan font-size="6.14" dy="1.86">4</tspan></text>
<text transform="translate(325.50 298.20) scale(0.800 1)" font-size="5.5">−</text>
<rect x="406.40" y="235.40" width="106.60" height="72.10" fill="#fff" stroke="#9a9a9a" stroke-width="0.9"/>
<line x1="403.20" y1="235.50" x2="406.40" y2="235.50" stroke="#9a9a9a" stroke-width="0.8"/>
<text transform="translate(399.40 238.50) scale(1.007 1)" font-size="8.4" text-anchor="end">0</text>
<line x1="403.20" y1="252.42" x2="406.40" y2="252.42" stroke="#9a9a9a" stroke-width="0.8"/>
<text transform="translate(399.40 255.42) scale(0.647 1)" font-size="8.4" text-anchor="end">1</text>
<line x1="403.20" y1="269.34" x2="406.40" y2="269.34" stroke="#9a9a9a" stroke-width="0.8"/>
<text transform="translate(399.40 272.34) scale(1.007 1)" font-size="8.4" text-anchor="end">2</text>
<line x1="403.20" y1="286.26" x2="406.40" y2="286.26" stroke="#9a9a9a" stroke-width="0.8"/>
<text transform="translate(399.40 289.26) scale(1.007 1)" font-size="8.4" text-anchor="end">3</text>
<line x1="403.20" y1="303.18" x2="406.40" y2="303.18" stroke="#9a9a9a" stroke-width="0.8"/>
<text transform="translate(399.40 306.18) scale(1.007 1)" font-size="8.4" text-anchor="end">4</text>
<line x1="419.50" y1="307.50" x2="419.50" y2="310.70" stroke="#9a9a9a" stroke-width="0.8"/>
<text transform="translate(419.50 320.50) scale(0.802 1)" font-size="8.4" text-anchor="middle">C1</text>
<line x1="446.30" y1="307.50" x2="446.30" y2="310.70" stroke="#9a9a9a" stroke-width="0.8"/>
<text transform="translate(446.30 320.50) scale(0.876 1)" font-size="8.4" text-anchor="middle">C2</text>
<line x1="472.90" y1="307.50" x2="472.90" y2="310.70" stroke="#9a9a9a" stroke-width="0.8"/>
<text transform="translate(472.90 320.50) scale(0.876 1)" font-size="8.4" text-anchor="middle">C4</text>
<line x1="499.50" y1="307.50" x2="499.50" y2="310.70" stroke="#9a9a9a" stroke-width="0.8"/>
<text transform="translate(499.50 320.50) scale(0.876 1)" font-size="8.4" text-anchor="middle">C5</text>
<path d="M419.50 254.50 L446.30 295.50 L472.90 256.30 L499.50 259.70" fill="none" stroke="#141414" stroke-width="1.25" stroke-dasharray="4.3 4.6"/>
<rect x="417.50" y="252.50" width="4" height="4" fill="#e3ccfb"/>
<rect x="444.30" y="293.50" width="4" height="4" fill="#ffa750"/>
<rect x="470.90" y="254.30" width="4" height="4" fill="#ffa9d3"/>
<rect x="497.50" y="257.70" width="4" height="4" fill="#c6e7ff"/>
<text transform="translate(377.40 272.00) rotate(-90) scale(1.078 1)" font-size="8.8" text-anchor="middle">Byproduct</text>
<text transform="translate(387.70 272.00) rotate(-90) scale(1.071 1)" font-size="8.8" text-anchor="middle">concentration</text>
<text transform="translate(459.80 334.60) scale(1.069 1)" font-size="8.8" text-anchor="middle">Electrolyte</text>
<text transform="translate(496.70 246.50) scale(0.869 1)" font-size="8.8" text-anchor="middle">XPS</text>
<rect x="576.40" y="235.40" width="107.60" height="72.00" fill="#fff" stroke="#9a9a9a" stroke-width="0.9"/>
<line x1="573.20" y1="235.40" x2="576.40" y2="235.40" stroke="#9a9a9a" stroke-width="0.8"/>
<text transform="translate(569.40 238.40) scale(0.887 1)" font-size="8.4" text-anchor="end">100</text>
<line x1="573.20" y1="249.80" x2="576.40" y2="249.80" stroke="#9a9a9a" stroke-width="0.8"/>
<text transform="translate(569.40 252.80) scale(1.007 1)" font-size="8.4" text-anchor="end">95</text>
<line x1="573.20" y1="264.20" x2="576.40" y2="264.20" stroke="#9a9a9a" stroke-width="0.8"/>
<text transform="translate(569.40 267.20) scale(1.007 1)" font-size="8.4" text-anchor="end">90</text>
<line x1="573.20" y1="278.60" x2="576.40" y2="278.60" stroke="#9a9a9a" stroke-width="0.8"/>
<text transform="translate(569.40 281.60) scale(1.007 1)" font-size="8.4" text-anchor="end">85</text>
<line x1="573.20" y1="293.00" x2="576.40" y2="293.00" stroke="#9a9a9a" stroke-width="0.8"/>
<text transform="translate(569.40 296.00) scale(1.007 1)" font-size="8.4" text-anchor="end">80</text>
<line x1="573.20" y1="307.40" x2="576.40" y2="307.40" stroke="#9a9a9a" stroke-width="0.8"/>
<text transform="translate(569.40 310.40) scale(1.007 1)" font-size="8.4" text-anchor="end">75</text>
<line x1="591.90" y1="307.40" x2="591.90" y2="310.60" stroke="#9a9a9a" stroke-width="0.8"/>
<text transform="translate(591.90 320.80) scale(0.802 1)" font-size="8.4" text-anchor="middle">C1</text>
<line x1="618.00" y1="307.40" x2="618.00" y2="310.60" stroke="#9a9a9a" stroke-width="0.8"/>
<text transform="translate(618.00 320.80) scale(0.876 1)" font-size="8.4" text-anchor="middle">C2</text>
<line x1="644.10" y1="307.40" x2="644.10" y2="310.60" stroke="#9a9a9a" stroke-width="0.8"/>
<text transform="translate(644.10 320.80) scale(0.876 1)" font-size="8.4" text-anchor="middle">C4</text>
<line x1="670.40" y1="307.40" x2="670.40" y2="310.60" stroke="#9a9a9a" stroke-width="0.8"/>
<text transform="translate(670.40 320.80) scale(0.876 1)" font-size="8.4" text-anchor="middle">C5</text>
<path d="M591.90 252.80 L618.00 284.30 L644.10 262.00 L670.40 265.70" fill="none" stroke="#141414" stroke-width="1.25" stroke-dasharray="4.3 4.6"/>
<rect x="589.90" y="250.80" width="4" height="4" fill="#e3ccfb"/>
<rect x="616.00" y="282.30" width="4" height="4" fill="#ffa750"/>
<rect x="642.10" y="260.00" width="4" height="4" fill="#ffa9d3"/>
<rect x="668.40" y="263.70" width="4" height="4" fill="#c6e7ff"/>
<text transform="translate(549.80 272.10) rotate(-90) scale(0.945 1)" font-size="8.8" text-anchor="middle">CE (%)</text>
<text transform="translate(630.00 334.60) scale(1.069 1)" font-size="8.8" text-anchor="middle">Electrolyte</text>
<line x1="19.50" y1="363.40" x2="193.10" y2="363.40" stroke="#3fb4b1" stroke-width="1.3" stroke-dasharray="5.7 3.55"/>
<line x1="19.50" y1="603.50" x2="193.10" y2="603.50" stroke="#3fb4b1" stroke-width="1.3" stroke-dasharray="5.7 3.55"/>
<line x1="19.50" y1="363.40" x2="19.50" y2="603.50" stroke="#3fb4b1" stroke-width="1.3" stroke-dasharray="5 3.1"/>
<line x1="193.10" y1="363.40" x2="193.10" y2="603.50" stroke="#3fb4b1" stroke-width="1.3" stroke-dasharray="5 3.1"/>
<line x1="208.50" y1="363.50" x2="389.60" y2="363.50" stroke="#3fb4b1" stroke-width="1.3" stroke-dasharray="5.7 3.55"/>
<line x1="208.50" y1="521.40" x2="389.60" y2="521.40" stroke="#3fb4b1" stroke-width="1.3" stroke-dasharray="5.7 3.55"/>
<line x1="208.50" y1="363.50" x2="208.50" y2="521.40" stroke="#3fb4b1" stroke-width="1.3" stroke-dasharray="5 3.1"/>
<line x1="389.60" y1="363.50" x2="389.60" y2="521.40" stroke="#3fb4b1" stroke-width="1.3" stroke-dasharray="5 3.1"/>
<line x1="403.50" y1="362.80" x2="512.00" y2="362.80" stroke="#3fb4b1" stroke-width="1.3" stroke-dasharray="5.7 3.55"/>
<line x1="403.50" y1="441.80" x2="512.00" y2="441.80" stroke="#3fb4b1" stroke-width="1.3" stroke-dasharray="5.7 3.55"/>
<line x1="403.50" y1="362.80" x2="403.50" y2="441.80" stroke="#3fb4b1" stroke-width="1.3" stroke-dasharray="5 3.1"/>
<line x1="512.00" y1="362.80" x2="512.00" y2="441.80" stroke="#3fb4b1" stroke-width="1.3" stroke-dasharray="5 3.1"/>
<line x1="403.50" y1="454.70" x2="531.90" y2="454.70" stroke="#3fb4b1" stroke-width="1.3" stroke-dasharray="5.7 3.55"/>
<line x1="403.50" y1="579.90" x2="531.90" y2="579.90" stroke="#3fb4b1" stroke-width="1.3" stroke-dasharray="5.7 3.55"/>
<line x1="403.50" y1="454.70" x2="403.50" y2="579.90" stroke="#3fb4b1" stroke-width="1.3" stroke-dasharray="5 3.1"/>
<line x1="531.90" y1="454.70" x2="531.90" y2="579.90" stroke="#3fb4b1" stroke-width="1.3" stroke-dasharray="5 3.1"/>
<line x1="550.50" y1="362.80" x2="684.30" y2="362.80" stroke="#3fb4b1" stroke-width="1.3" stroke-dasharray="5.7 3.55"/>
<line x1="550.50" y1="500.40" x2="684.30" y2="500.40" stroke="#3fb4b1" stroke-width="1.3" stroke-dasharray="5.7 3.55"/>
<line x1="550.50" y1="362.80" x2="550.50" y2="500.40" stroke="#3fb4b1" stroke-width="1.3" stroke-dasharray="5 3.1"/>
<line x1="684.30" y1="362.80" x2="684.30" y2="500.40" stroke="#3fb4b1" stroke-width="1.3" stroke-dasharray="5 3.1"/>
<text transform="translate(106.20 356.00) scale(1.030 1)" font-size="8.8" text-anchor="middle">Anion designing</text>
<text transform="translate(299.10 356.00) scale(1.033 1)" font-size="8.8" text-anchor="middle">Solvation shell</text>
<text transform="translate(457.70 356.00) scale(1.022 1)" font-size="8.8" text-anchor="middle">Property</text>
<text transform="translate(617.40 356.20) scale(1.030 1)" font-size="8.8" text-anchor="middle">Performance</text>
<rect x="114.00" y="376.80" width="72.80" height="24.80" fill="#dae3f3"/>
<rect x="105.00" y="460.70" width="55.00" height="25.00" fill="#dae3f3"/>
<rect x="89.90" y="488.80" width="89.40" height="24.60" fill="#dae3f3"/>
<rect x="105.00" y="547.50" width="63.10" height="24.90" fill="#dae3f3"/>
<rect x="242.00" y="394.40" width="124.80" height="25.10" fill="#dae3f3"/>
<rect x="242.40" y="467.40" width="124.80" height="24.60" fill="#dae3f3"/>
<rect x="418.10" y="386.30" width="83.00" height="41.40" fill="#dae3f3"/>
<rect x="409.90" y="479.70" width="117.00" height="41.10" fill="#dae3f3"/>
<rect x="409.90" y="537.00" width="117.00" height="24.90" fill="#dae3f3"/>
<rect x="561.00" y="380.20" width="113.80" height="54.70" fill="#dae3f3"/>
<rect x="580.20" y="456.60" width="72.90" height="32.50" fill="#dae3f3"/>
<path d="M86.1 411V388.9H110.4" fill="none" stroke="#828282" stroke-width="1.15"/>
<polygon points="113.70,388.90 109.20,386.70 109.90,388.90 109.20,391.10" fill="#828282"/>
<path d="M132.6 442.6V456.2" fill="none" stroke="#828282" stroke-width="1.15"/>
<polygon points="132.60,459.60 130.40,455.10 132.60,455.80 134.80,455.10" fill="#828282"/>
<path d="M190.4 442.1H216.4" fill="none" stroke="#828282" stroke-width="1.7"/>
<path d="M238 406.7H216.4V480.0H238" fill="none" stroke="#828282" stroke-width="1.45"/>
<polygon points="241.40,406.70 236.90,404.50 237.60,406.70 236.90,408.90" fill="#828282"/>
<path d="M237.5 480.0H238.3" fill="none" stroke="#828282" stroke-width="1.45"/>
<polygon points="241.70,480.00 237.20,477.80 237.90,480.00 237.20,482.20" fill="#828282"/>
<path d="M368 406.2H402.8" fill="none" stroke="#828282" stroke-width="1.45"/>
<polygon points="406.00,406.20 401.50,404.00 402.20,406.20 401.50,408.40" fill="#828282"/>
<path d="M368 486.5H402.8" fill="none" stroke="#828282" stroke-width="1.45"/>
<polygon points="406.00,486.50 401.50,484.30 402.20,486.50 401.50,488.70" fill="#828282"/>
<path d="M193.1 569.9H301.5V549.4H406.4" fill="none" stroke="#828282" stroke-width="1.45"/>
<polygon points="409.60,549.40 405.10,547.20 405.80,549.40 405.10,551.60" fill="#828282"/>
<path d="M507.5 407.6H557.8" fill="none" stroke="#828282" stroke-width="1.45"/>
<polygon points="561.00,407.60 556.50,405.40 557.20,407.60 556.50,409.80" fill="#828282"/>
<path d="M531.9 517.1H617V493.4" fill="none" stroke="#828282" stroke-width="1.75"/>
<polygon points="617.00,489.80 614.80,494.30 617.00,493.60 619.20,494.30" fill="#828282"/>
<text transform="translate(150.40 388.20) scale(1.030 1)" font-size="8.8" text-anchor="middle">Steric</text>
<text transform="translate(150.40 397.50) scale(1.027 1)" font-size="8.8" text-anchor="middle">hindrance</text>
<text transform="translate(132.40 470.20) scale(1.030 1)" font-size="8.8" text-anchor="middle">F</text>
<text transform="translate(132.50 481.40) scale(1.072 1)" font-size="8.8" text-anchor="middle">substitution</text>
<text transform="translate(134.80 499.50) scale(1.030 1)" font-size="8.8" text-anchor="middle">O ESP</text>
<text transform="translate(134.80 509.40) scale(1.048 1)" font-size="8.8" text-anchor="middle">binding energy</text>
<text transform="translate(136.50 557.70) scale(1.030 1)" font-size="8.8" text-anchor="middle">B–H</text>
<text transform="translate(136.50 568.10) scale(1.016 1)" font-size="8.8" text-anchor="middle">cleavage</text>
<text transform="translate(62.30 470.70) scale(1.046 1)" font-size="8.8" text-anchor="middle">Tetrasubstituted</text>
<text transform="translate(62.00 481.40) scale(1.045 1)" font-size="8.8" text-anchor="middle">organoborate</text>
<text transform="translate(59.60 593.70) scale(1.030 1)" font-size="8.8" text-anchor="middle">C3</text>
<text transform="translate(304.40 404.90) scale(1.029 1)" font-size="8.8" text-anchor="middle">Weak anion coordinating</text>
<text transform="translate(304.10 414.80) scale(1.042 1)" font-size="8.8" text-anchor="middle">high dissociation</text>
<text transform="translate(304.60 483.10) scale(1.057 1)" font-size="8.8" text-anchor="middle">Strong anion coordinating</text>
<text transform="translate(385.90 400.40) scale(1.015 1)" font-size="8.8" text-anchor="middle">M2/M3</text>
<text transform="translate(380.60 500.50) scale(1.015 1)" font-size="8.8" text-anchor="middle">C1/C4/C5</text>
<text transform="translate(382.80 546.00) scale(1.022 1)" font-size="8.8" text-anchor="middle">C3</text>
<text transform="translate(410.20 375.60) scale(1.059 1)" font-size="8.8">Ion transport control</text>
<text transform="translate(459.40 399.20) scale(1.030 1)" font-size="8.8" text-anchor="middle">High IC,</text>
<text transform="translate(459.40 410.60) scale(1.030 1)" font-size="8.8" text-anchor="middle">High <tspan font-style="italic">J</tspan><tspan font-size="5.81" dy="1.76">lim</tspan><tspan dy="-1.76">,</tspan></text>
<text transform="translate(459.60 422.30) scale(1.010 1)" font-size="8.8" text-anchor="middle">High Sand’s time</text>
<text transform="translate(412.70 469.50) scale(1.021 1)" font-size="8.8">Passivation control</text>
<text transform="translate(468.70 498.00) scale(1.016 1)" font-size="8.8" text-anchor="middle">Anion-derived, CaO-</text>
<text transform="translate(468.60 508.70) scale(1.045 1)" font-size="8.8" text-anchor="middle">containing passivation</text>
<text transform="translate(468.40 547.80) scale(1.008 1)" font-size="8.8" text-anchor="middle">B-H, CaH<tspan font-size="5.81" dy="1.76">x</tspan><tspan dy="-1.76"> containing</tspan></text>
<text transform="translate(467.80 557.70) scale(0.961 1)" font-size="8.8" text-anchor="middle">passivation</text>
<text transform="translate(524.90 402.50) scale(1.023 1)" font-size="8.8" text-anchor="middle">Mg</text>
<text transform="translate(547.50 512.20) scale(0.933 1)" font-size="8.8" text-anchor="middle">Ca</text>
<text transform="translate(617.90 393.90) scale(1.030 1)" font-size="8.8" text-anchor="middle">Low η</text>
<text transform="translate(617.90 405.60) scale(1.030 1)" font-size="8.8" text-anchor="middle">Large grain</text>
<text transform="translate(617.90 417.20) scale(1.054 1)" font-size="8.8" text-anchor="middle">High cumulative capacity</text>
<text transform="translate(617.90 428.60) scale(0.995 1)" font-size="8.8" text-anchor="middle">High Mg CE</text>
<text transform="translate(616.80 470.60) scale(1.030 1)" font-size="8.8" text-anchor="middle">Low η</text>
<text transform="translate(616.80 482.00) scale(0.969 1)" font-size="8.8" text-anchor="middle">High Ca CE</text>
<path d="M28.80 423.10 L29.07 423.74 L29.35 424.23 L29.62 424.48 L29.90 424.43 L30.18 424.09 L30.45 423.53 L30.73 422.88 L31.00 422.28 L31.27 421.85 L31.55 421.70 L31.82 421.85 L32.10 422.28 L32.38 422.88 L32.65 423.53 L32.92 424.09 L33.20 424.43 L33.48 424.48 L33.75 424.23 L34.02 423.74 L34.30 423.10 L34.58 422.46 L34.85 421.97 L35.12 421.72 L35.40 421.77 L35.67 422.11 L35.95 422.67 L36.23 423.32 L36.50 423.92 L36.77 424.35 L37.05 424.50 L37.32 424.35 L37.60 423.92 L37.88 423.32 L38.15 422.67 L38.42 422.11 L38.70 421.77 L38.97 421.72 L39.25 421.97 L39.52 422.46 L39.80 423.10" fill="none" stroke="#333" stroke-width="0.7"/>
<path d="M60.20 390.80 L60.84 391.10 L61.33 391.39 L61.58 391.69 L61.53 391.98 L61.19 392.28 L60.63 392.57 L59.98 392.87 L59.38 393.16 L58.95 393.46 L58.80 393.75 L58.95 394.05 L59.38 394.34 L59.98 394.63 L60.63 394.93 L61.19 395.23 L61.53 395.52 L61.58 395.81 L61.33 396.11 L60.84 396.41 L60.20 396.70 L59.56 397.00 L59.07 397.29 L58.82 397.59 L58.87 397.88 L59.21 398.18 L59.77 398.47 L60.42 398.77 L61.02 399.06 L61.45 399.36 L61.60 399.65 L61.45 399.94 L61.02 400.24 L60.42 400.54 L59.77 400.83 L59.21 401.12 L58.87 401.42 L58.82 401.72 L59.07 402.01 L59.56 402.31 L60.20 402.60" fill="none" stroke="#333" stroke-width="0.7"/>
<path d="M60.20 444.00 L60.84 444.27 L61.33 444.55 L61.58 444.82 L61.53 445.10 L61.19 445.38 L60.63 445.65 L59.98 445.93 L59.38 446.20 L58.95 446.48 L58.80 446.75 L58.95 447.02 L59.38 447.30 L59.98 447.57 L60.63 447.85 L61.19 448.12 L61.53 448.40 L61.58 448.68 L61.33 448.95 L60.84 449.23 L60.20 449.50 L59.56 449.77 L59.07 450.05 L58.82 450.32 L58.87 450.60 L59.21 450.88 L59.77 451.15 L60.42 451.43 L61.02 451.70 L61.45 451.98 L61.60 452.25 L61.45 452.52 L61.02 452.80 L60.42 453.07 L59.77 453.35 L59.21 453.62 L58.87 453.90 L58.82 454.18 L59.07 454.45 L59.56 454.73 L60.20 455.00" fill="none" stroke="#333" stroke-width="0.7"/>
<line x1="48.60" y1="423.10" x2="55.60" y2="423.10" stroke="#555" stroke-width="0.8"/>
<line x1="59.80" y1="412.20" x2="59.80" y2="418.30" stroke="#555" stroke-width="0.8"/>
<line x1="59.80" y1="428.00" x2="59.80" y2="434.60" stroke="#555" stroke-width="0.8"/>
<line x1="64.00" y1="423.10" x2="72.00" y2="423.10" stroke="#555" stroke-width="0.8"/>
<text transform="translate(44.20 426.70) scale(0.900 1)" font-size="10" text-anchor="middle" fill="#ff1a1a" stroke="#ff1a1a" stroke-width="0.25">O</text>
<text transform="translate(59.80 411.10) scale(0.900 1)" font-size="10" text-anchor="middle" fill="#ff1a1a" stroke="#ff1a1a" stroke-width="0.25">O</text>
<text transform="translate(76.40 426.70) scale(0.900 1)" font-size="10" text-anchor="middle" fill="#ff1a1a" stroke="#ff1a1a" stroke-width="0.25">O</text>
<text transform="translate(60.10 443.20) scale(0.900 1)" font-size="10" text-anchor="middle" fill="#ff1a1a" stroke="#ff1a1a" stroke-width="0.25">O</text>
<text transform="translate(59.80 426.70) scale(0.900 1)" font-size="10" text-anchor="middle" fill="#111" stroke="#111" stroke-width="0.25">B</text>
<circle cx="65.30" cy="418.50" r="1.9" fill="#fff" stroke="#666" stroke-width="0.5"/>
<line x1="64.30" y1="418.50" x2="66.30" y2="418.50" stroke="#666" stroke-width="0.5"/>
<path d="M80.6 424.7L90.6 430.7L105.5 423.2L115.0 428.6" fill="none" stroke="#444" stroke-width="0.9"/>
<text transform="translate(116.00 435.90) scale(0.988 1)" font-size="10" fill="#111">C<tspan fill="#3a9a32">F</tspan><tspan font-size="6.60" dy="2.00">3</tspan></text>
<rect x="66.60" y="411.50" width="40.00" height="25.40" rx="2" fill="none" stroke="#7f99bb" stroke-width="1.25" stroke-dasharray="2.3 1.3"/>
<rect x="111.10" y="421.20" width="28.90" height="21.10" rx="1.3" fill="none" stroke="#2b4d80" stroke-width="1.05" stroke-dasharray="2.3 1.3"/>
<path d="M32.30 545.40 L32.56 546.04 L32.82 546.53 L33.08 546.78 L33.34 546.73 L33.60 546.39 L33.86 545.83 L34.12 545.18 L34.38 544.58 L34.64 544.15 L34.90 544.00 L35.16 544.15 L35.42 544.58 L35.68 545.18 L35.94 545.83 L36.20 546.39 L36.46 546.73 L36.72 546.78 L36.98 546.53 L37.24 546.04 L37.50 545.40 L37.76 544.76 L38.02 544.27 L38.28 544.02 L38.54 544.07 L38.80 544.41 L39.06 544.97 L39.32 545.62 L39.58 546.22 L39.84 546.65 L40.10 546.80 L40.36 546.65 L40.62 546.22 L40.88 545.62 L41.14 544.97 L41.40 544.41 L41.66 544.07 L41.92 544.02 L42.18 544.27 L42.44 544.76 L42.70 545.40" fill="none" stroke="#333" stroke-width="0.7"/>
<path d="M64.20 511.40 L64.84 511.72 L65.33 512.05 L65.58 512.38 L65.53 512.70 L65.19 513.02 L64.63 513.35 L63.98 513.67 L63.38 514.00 L62.95 514.32 L62.80 514.65 L62.95 514.98 L63.38 515.30 L63.98 515.62 L64.63 515.95 L65.19 516.27 L65.53 516.60 L65.58 516.92 L65.33 517.25 L64.84 517.57 L64.20 517.90 L63.56 518.23 L63.07 518.55 L62.82 518.88 L62.87 519.20 L63.21 519.52 L63.77 519.85 L64.42 520.17 L65.02 520.50 L65.45 520.82 L65.60 521.15 L65.45 521.48 L65.02 521.80 L64.42 522.12 L63.77 522.45 L63.21 522.77 L62.87 523.10 L62.82 523.42 L63.07 523.75 L63.56 524.07 L64.20 524.40" fill="none" stroke="#333" stroke-width="0.7"/>
<path d="M64.20 566.00 L64.84 566.28 L65.33 566.56 L65.58 566.84 L65.53 567.12 L65.19 567.40 L64.63 567.68 L63.98 567.96 L63.38 568.24 L62.95 568.52 L62.80 568.80 L62.95 569.08 L63.38 569.36 L63.98 569.64 L64.63 569.92 L65.19 570.20 L65.53 570.48 L65.58 570.76 L65.33 571.04 L64.84 571.32 L64.20 571.60 L63.56 571.88 L63.07 572.16 L62.82 572.44 L62.87 572.72 L63.21 573.00 L63.77 573.28 L64.42 573.56 L65.02 573.84 L65.45 574.12 L65.60 574.40 L65.45 574.68 L65.02 574.96 L64.42 575.24 L63.77 575.52 L63.21 575.80 L62.87 576.08 L62.82 576.36 L63.07 576.64 L63.56 576.92 L64.20 577.20" fill="none" stroke="#333" stroke-width="0.7"/>
<line x1="51.50" y1="545.40" x2="59.80" y2="545.40" stroke="#555" stroke-width="0.8"/>
<line x1="64.00" y1="533.50" x2="64.00" y2="540.60" stroke="#555" stroke-width="0.8"/>
<line x1="64.00" y1="550.30" x2="64.00" y2="556.60" stroke="#555" stroke-width="0.8"/>
<line x1="68.30" y1="545.40" x2="76.20" y2="545.40" stroke="#555" stroke-width="0.8"/>
<text transform="translate(47.20 549.00) scale(0.900 1)" font-size="10" text-anchor="middle" fill="#ff1a1a" stroke="#ff1a1a" stroke-width="0.25">O</text>
<text transform="translate(64.00 532.30) scale(0.900 1)" font-size="10" text-anchor="middle" fill="#ff1a1a" stroke="#ff1a1a" stroke-width="0.25">O</text>
<text transform="translate(64.00 565.10) scale(0.900 1)" font-size="10" text-anchor="middle" fill="#ff1a1a" stroke="#ff1a1a" stroke-width="0.25">O</text>
<text transform="translate(64.00 549.00) scale(0.900 1)" font-size="10" text-anchor="middle" fill="#111" stroke="#111" stroke-width="0.25">B</text>
<text transform="translate(80.30 549.00) scale(0.900 1)" font-size="10" text-anchor="middle" fill="#3a9a32" stroke="#3a9a32" stroke-width="0.25">H</text>
<circle cx="69.60" cy="539.90" r="1.9" fill="#fff" stroke="#666" stroke-width="0.5"/>
<line x1="68.60" y1="539.90" x2="70.60" y2="539.90" stroke="#666" stroke-width="0.5"/>
<rect x="57.40" y="535.30" width="34.60" height="19.30" rx="1.3" fill="none" stroke="#2b4d80" stroke-width="1.05" stroke-dasharray="2.3 1.3"/>
</g>
</svg>
</body></html>
